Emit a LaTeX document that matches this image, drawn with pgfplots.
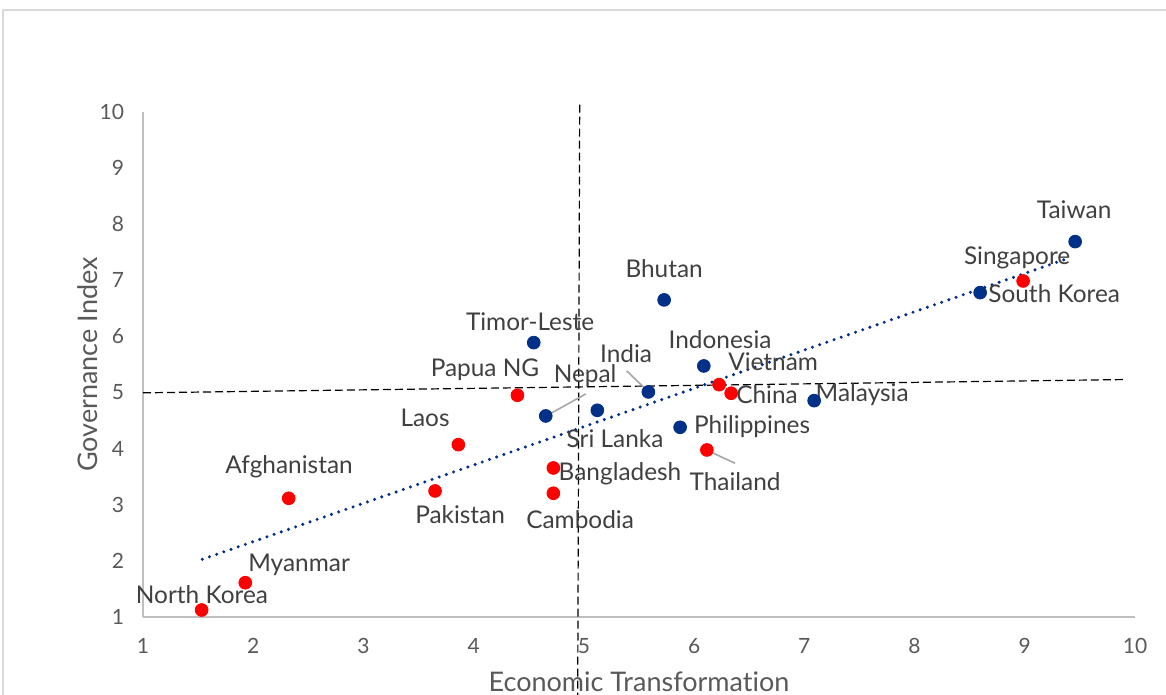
\documentclass[border=0pt]{standalone}
\usepackage{pgfplots}
\pgfplotsset{compat=1.18}
\usepackage{fontspec}
\setmainfont{Lato}[Ligatures={TeX,NoCommon}]
\definecolor{navy}{RGB}{0,48,135}
\definecolor{lblgray}{HTML}{404040}
\definecolor{tickgray}{HTML}{595959}
\definecolor{framegray}{HTML}{D9D9D9}
\definecolor{leader}{HTML}{A6A6A6}
\begin{document}
\begin{tikzpicture}[x=1pt,y=1pt]
\useasboundingbox (-71.5,-39) rectangle (511.5,308.5);
\draw[framegray, line width=0.8pt] (-70,-60) rectangle (530,303.5);
\begin{axis}[
 at={(0,0)}, anchor=south west,
 scale only axis, width=496pt, height=252.5pt,
 xmin=1,xmax=10,ymin=1,ymax=10,
 axis x line*=bottom, axis y line*=left,
 axis line style={draw=gray!50, line width=0.8pt, -},
 xtick={1,...,10}, ytick={1,...,10},
 major tick length=0pt,
 tick label style={font=\fontsize{10.5}{12}\selectfont, text=tickgray},
 /pgf/number format/assume math mode=true,
 xticklabel style={yshift=-7pt},
 yticklabel style={xshift=-6pt},
 xlabel={Economic Transformation}, ylabel={Governance Index},
 label style={font=\fontsize{13.5}{15}\selectfont, text=tickgray},
 xlabel style={at={(axis description cs:0.5,-0.1287)}, anchor=center},
 ylabel style={at={(axis description cs:-0.0554,0.5)}, anchor=center},
 clip=false,
]
% quadrant dashed lines
\addplot[black, line width=0.6pt, dash pattern=on 4pt off 2pt] coordinates {(4.962,10.13) (4.944,-0.39)};
\addplot[black, line width=0.6pt, dash pattern=on 4pt off 2pt] coordinates {(1.0,4.995) (9.91,5.232)};
% trendline
\addplot[navy, line width=1.7pt, line cap=round, dash pattern=on 0pt off 3.8pt] coordinates {(1.538,2.028) (9.412,7.405)};
% leader lines
\addplot[leader, line width=0.8pt] coordinates {(4.662,4.588) (5.017,4.975)};
\addplot[leader, line width=0.8pt] coordinates {(5.389,5.385) (5.585,5.016)};
\addplot[leader, line width=0.8pt] coordinates {(6.130,3.959) (6.372,3.740)};
% red series
\addplot[only marks, mark=*, mark size=3.2pt, mark options={draw=red, fill=red}] coordinates {
 (1.532,1.125) (1.928,1.611) (2.322,3.116) (3.650,3.246) (3.861,4.071)
 (4.397,4.952) (4.723,3.656) (4.723,3.205) (6.227,5.141) (6.336,4.988)
 (6.116,3.977) (8.985,6.989)};
% blue series
\addplot[only marks, mark=*, mark size=3.2pt, mark options={draw=navy, fill=navy}] coordinates {
 (4.654,4.583) (4.545,5.890) (5.122,4.684) (5.585,5.011) (5.728,6.651)
 (6.088,5.474) (5.873,4.381) (7.089,4.856) (8.595,6.781) (9.457,7.690)};
% labels
\begin{scope}[every node/.style={font=\fontsize{12.2}{14}\selectfont, text=lblgray, inner sep=0pt}]
\node at (axis cs:9.448,8.255) {Taiwan};
\node at (axis cs:8.931,7.399) {Singapore};
\node at (axis cs:9.267,6.758) {South Korea};
\node at (axis cs:5.728,7.203) {Bhutan};
\node at (axis cs:4.512,6.258) {Timor-Leste};
\node at (axis cs:6.236,5.938) {Indonesia};
\node at (axis cs:5.383,5.688) {India};
\node at (axis cs:6.717,5.545) {Vietnam};
\node at (axis cs:4.103,5.403) {Papua NG};
\node at (axis cs:5.011,5.296) {Nepal};
\node at (axis cs:6.662,4.957) {China};
\node at (axis cs:7.525,4.957) {Malaysia};
\node at (axis cs:3.559,4.547) {Laos};
\node at (axis cs:5.283,4.173) {Sri Lanka};
\node at (axis cs:6.526,4.387) {Philippines};
\node at (axis cs:2.325,3.674) {Afghanistan};
\node at (axis cs:5.328,3.549) {Bangladesh};
\node at (axis cs:6.372,3.406) {Thailand};
\node at (axis cs:3.877,2.818) {Pakistan};
\node at (axis cs:4.966,2.729) {Cambodia};
\node at (axis cs:2.416,1.927) {Myanmar};
\node at (axis cs:1.535,1.392) {North Korea};
\end{scope}
\end{axis}
\end{tikzpicture}
\end{document}
